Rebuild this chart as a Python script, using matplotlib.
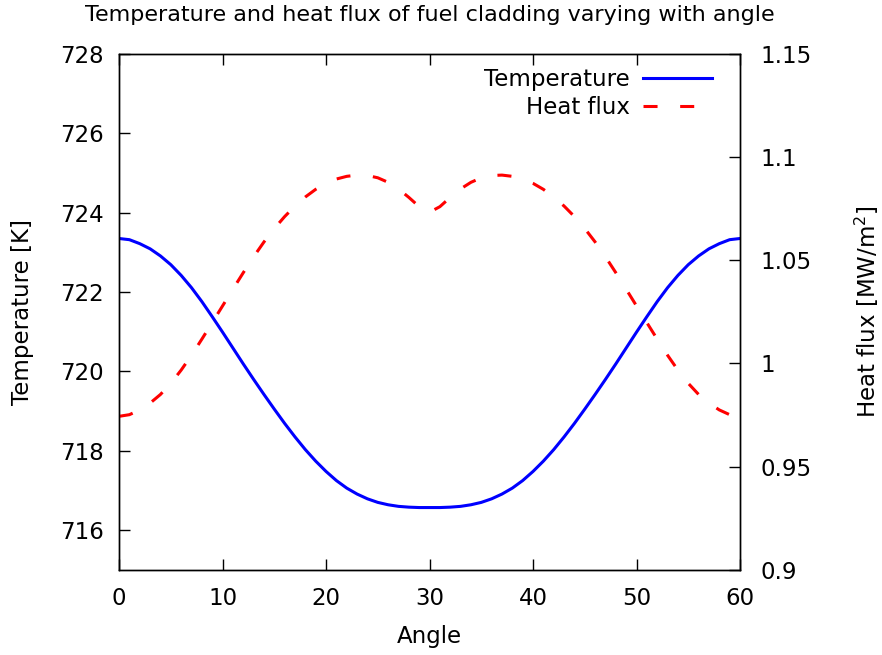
import numpy as np
import matplotlib.pyplot as plt
from matplotlib.ticker import FuncFormatter

# values, one per degree
angle = list(range(0, 61))
temperature = [723.35, 723.32, 723.22, 723.09, 722.91, 722.69, 722.42, 722.11, 721.76, 721.38,
               720.99, 720.59, 720.19, 719.80, 719.42, 719.05, 718.69, 718.35, 718.03, 717.74,
               717.48, 717.25, 717.06, 716.91, 716.79, 716.70, 716.64, 716.60, 716.58, 716.57,
               716.57, 716.57, 716.58, 716.60, 716.64, 716.70, 716.79, 716.91, 717.06, 717.25,
               717.48, 717.74, 718.03, 718.35, 718.69, 719.05, 719.42, 719.80, 720.19, 720.59,
               720.99, 721.38, 721.76, 722.11, 722.42, 722.69, 722.91, 723.09, 723.22, 723.32,
               723.35]
heat_flux = [0.9744, 0.9752, 0.9775, 0.9808, 0.9850, 0.9904, 0.9968, 1.0040, 1.0118, 1.0198,
             1.0279, 1.0360, 1.0440, 1.0517, 1.0589, 1.0654, 1.0712, 1.0763, 1.0807, 1.0844,
             1.0873, 1.0894, 1.0907, 1.0913, 1.0911, 1.0900, 1.0878, 1.0846, 1.0805, 1.0760,
             1.0733, 1.0760, 1.0805, 1.0846, 1.0878, 1.0900, 1.0911, 1.0913, 1.0907, 1.0894,
             1.0873, 1.0844, 1.0807, 1.0763, 1.0712, 1.0654, 1.0589, 1.0517, 1.0440, 1.0360,
             1.0279, 1.0198, 1.0118, 1.0040, 0.9968, 0.9904, 0.9850, 0.9808, 0.9775, 0.9752,
             0.9748]

fs = 16.5
fig = plt.figure(figsize=(8.82, 6.55), dpi=100)
ax = fig.add_axes([0.135, 0.130, 0.704, 0.7876])
ax2 = ax.twinx()

l1, = ax.plot(angle, temperature, color='#0000ff', lw=2.2, label='Temperature')
l2, = ax2.plot(angle, heat_flux, color='#ff0000', lw=2.2, dashes=(4.6, 7.4), label='Heat flux')

ax.set_xlim(0, 60)
ax.set_ylim(715, 728)
ax2.set_ylim(0.9, 1.15)
ax.set_xticks(range(0, 61, 10))
ax.set_yticks(range(716, 729, 2))
ax2.set_yticks([0.9, 0.95, 1.0, 1.05, 1.1, 1.15])
ax2.yaxis.set_major_formatter(FuncFormatter(lambda v, p: '{:g}'.format(round(v, 2))))

ax.tick_params(axis='x', direction='in', length=8, width=1, top=True, labelsize=fs, pad=12)
ax.tick_params(axis='y', direction='in', length=8, width=1, right=False, labelsize=fs, pad=11)
ax2.tick_params(axis='y', direction='in', length=8, width=1, labelsize=fs, pad=15)
for a in (ax, ax2):
    for s in a.spines.values():
        s.set_color('black')
        s.set_linewidth(1)

ax.set_xlabel('Angle', fontsize=fs, va='center')
ax.xaxis.set_label_coords(0.5, -0.13)
ax.set_ylabel('Temperature [K]', fontsize=fs, va='center')
ax.yaxis.set_label_coords(-0.156, 0.5)
ax2.set_ylabel('Heat flux [MW/m$^2$]', fontsize=fs, va='center')
ax2.yaxis.set_label_coords(1.205, 0.5)
ax.set_title('Temperature and heat flux of fuel cladding varying with angle',
             fontsize=16, y=1.0756, va='center', pad=0)

ax.legend([l1, l2], ['Temperature', 'Heat flux'], loc='upper right', frameon=False,
          markerfirst=False, fontsize=fs, handlelength=3.0, handletextpad=0.57,
          labelspacing=0.22, bbox_to_anchor=(0.955, 0.972), borderaxespad=0, borderpad=0)

fig.savefig('out.png', dpi=100)
